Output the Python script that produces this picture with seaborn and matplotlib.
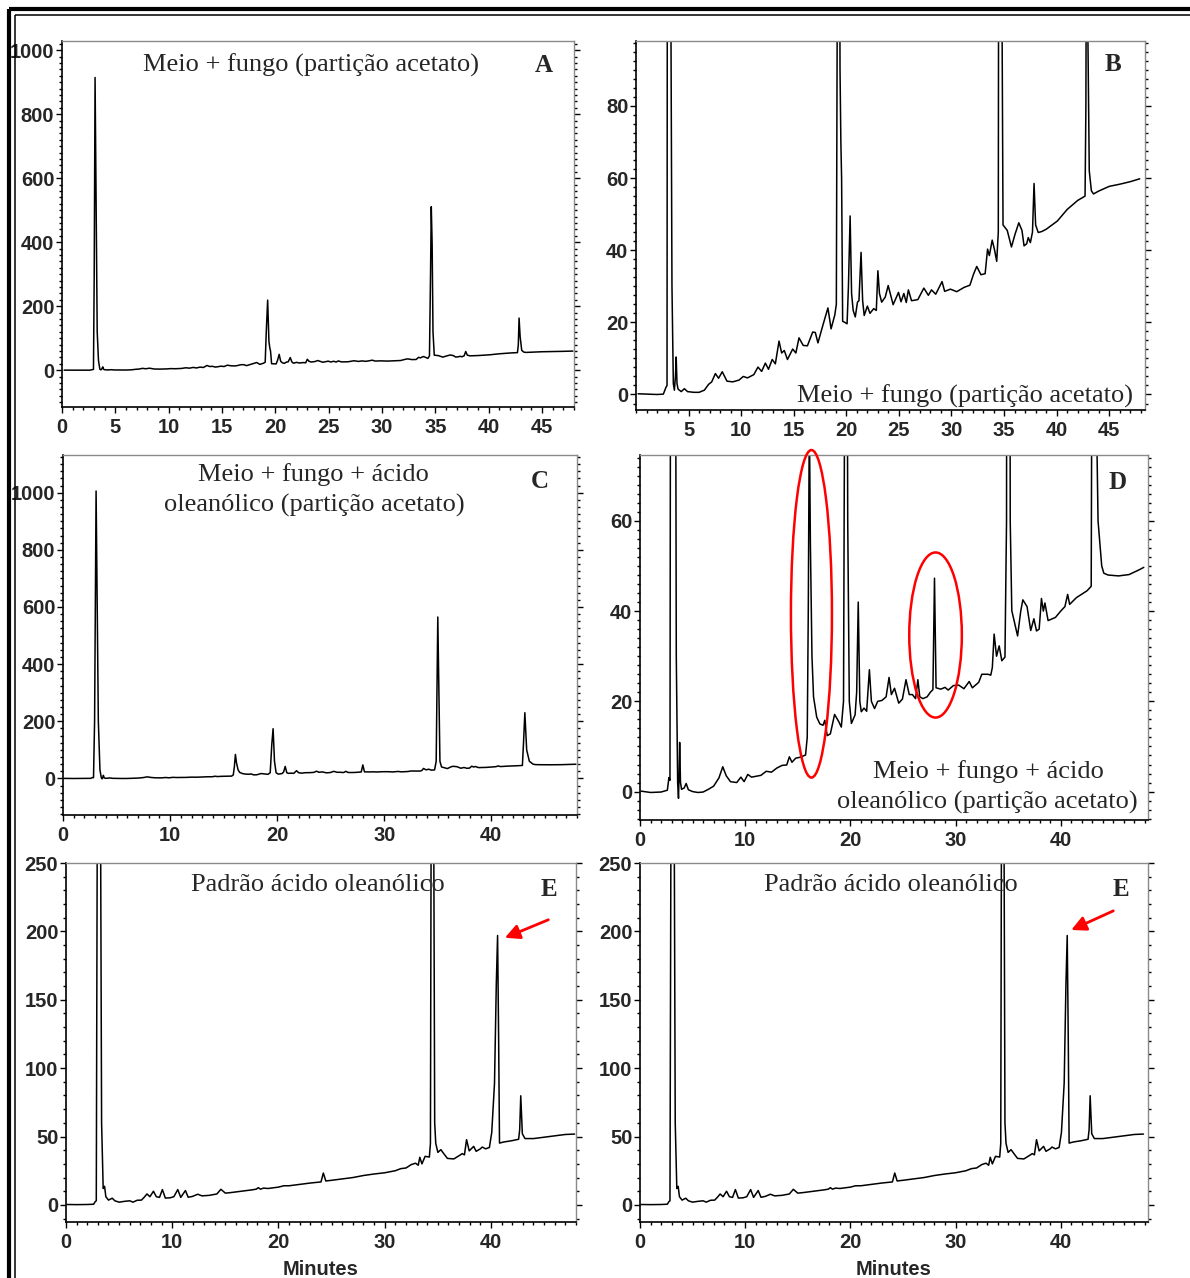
import matplotlib
matplotlib.use("Agg")
import matplotlib.pyplot as plt
from matplotlib.patches import Ellipse
from matplotlib.lines import Line2D
from matplotlib.ticker import MultipleLocator, FixedLocator
import pandas as pd
import seaborn as sns

# --- chromatogram A/B (medium + fungus, acetate partition) ---
ab_time = [0.2, 1.0, 2.0, 2.6, 2.85, 2.95, 3.02, 3.1, 3.2, 3.3, 3.42, 3.55, 3.65, 3.75, 3.82, 3.9,
           4.0, 4.3, 4.6, 4.9, 5.5, 6.0, 6.5, 6.9, 7.2, 7.55, 7.85, 8.2, 8.65, 9.2, 9.8, 10.2, 10.6,
           11.2, 11.6, 11.95, 12.3, 12.6, 12.95, 13.25, 13.6, 13.85, 14.1, 14.4, 14.9, 15.2, 15.5,
           15.9, 16.3, 16.8, 17.05, 17.3, 17.8, 18.25, 18.55, 18.9, 19.05, 19.15, 19.28, 19.4, 19.48,
           19.55, 19.65, 19.85, 20.07, 20.2, 20.36, 20.5, 20.65, 20.85, 21.06, 21.2, 21.4, 21.55, 21.7,
           22.0, 22.25, 22.6, 22.85, 23.0, 23.15, 23.36, 23.7, 23.98, 24.45, 24.96, 25.2, 25.47, 25.7,
           25.9, 26.2, 26.8, 27.37, 27.8, 28.1, 28.5, 29.1, 29.35, 29.9, 30.5, 31.2, 31.75, 32.1, 32.4,
           32.8, 33.2, 33.43, 33.6, 33.87, 34.1, 34.3, 34.45, 34.55, 34.62, 34.7, 34.78, 34.9, 35.3,
           35.7, 36.05, 36.4, 36.7, 36.9, 37.15, 37.3, 37.5, 37.7, 37.85, 38.0, 38.25, 38.6, 39.0,
           40.07, 41.0, 42.0, 42.7, 42.78, 42.85, 42.95, 43.1, 43.3, 43.5, 44.0, 45.0, 46.0, 47.0, 47.9]
ab_signal = [0.2, 0.1, 0.0, 0.1, 2.0, 2.5, 300, 915, 500, 120, 30, 3, 1.2, 5, 10.4, 3,
             1.5, 0.8, 1.6, 0.8, 0.6, 0.6, 1.2, 2.8, 3.5, 5.8, 4.5, 6.3, 3.7, 3.5, 4.0, 5.0, 4.6,
             5.5, 7.6, 6.4, 8.7, 7.0, 9.7, 8.5, 14.8, 11.5, 12.2, 9.7, 12.6, 11.5, 15.7,
             13.6, 13.5, 17.3, 17.2, 14.3, 19.5, 24.0, 18.2, 22.0, 25, 120, 219, 90, 70,
             60, 20.3, 20.0, 19.6, 30, 49.5, 28, 23.3, 21.5, 25.6, 26, 39.4, 26, 21.9,
             24.5, 22.5, 23.8, 23.3, 34.3, 28, 25.6, 27, 30.2, 24.9, 28.3, 25.7, 28.0, 25.5,
             29.0, 26.0, 26.3, 29.5, 27.5, 29.0, 27.8, 31.3, 28.6, 29.2, 28.5, 29.7, 30.3, 33.4, 35.5,
             33.2, 33.5, 40.3, 38.5, 42.8, 40, 36.9, 45, 300, 511, 395, 120, 47, 45.5,
             40.9, 44.5, 47.6, 45.5, 41.2, 41.8, 43.5, 42.1, 45, 58.5, 47, 44.9, 45.2, 45.8,
             48.1, 51.3, 53.8, 55.0, 80, 163, 105, 62, 56.5, 55.6, 56.4, 57.7, 58.3, 59.0, 59.8]

# --- chromatogram C/D (medium + fungus + oleanolic acid) ---
cd_time = [0.1, 1.0, 2.0, 2.6, 2.75, 2.85, 2.95, 3.09, 3.2, 3.3, 3.45, 3.58, 3.66, 3.72, 3.77, 3.85,
           3.95, 4.2, 4.39, 4.6, 5.0, 5.5, 6.0, 6.5, 7.0, 7.5, 7.87, 8.2, 8.6, 9.2, 9.59, 9.9, 10.25,
           10.6, 11.5, 12.0, 12.5, 13.0, 13.5, 13.95, 14.2, 14.45, 14.8, 15.2, 15.74, 15.9, 16.0, 16.1,
           16.2, 16.35, 16.5, 16.8, 17.1, 17.4, 17.57, 17.8, 18.1, 18.5, 18.9, 19.14, 19.35, 19.5,
           19.62, 19.75, 19.9, 20.1, 20.45, 20.6, 20.75, 20.9, 21.04, 21.3, 21.55, 21.81, 22.0, 22.3,
           22.6, 23.0, 23.4, 23.68, 23.9, 24.2, 24.6, 24.95, 25.29, 25.6, 25.9, 26.2, 26.42, 26.6,
           26.9, 27.3, 27.6, 27.85, 28.0, 28.15, 28.6, 29.0, 29.3, 29.8, 30.3, 30.8, 31.3, 31.6, 32.2,
           32.5, 33.1, 33.35, 33.5, 33.67, 33.9, 34.15, 34.4, 34.7, 34.85, 35.0, 35.1, 35.2, 35.35,
           35.9, 36.2, 36.4, 36.8, 37.15, 37.45, 37.7, 37.95, 38.17, 38.35, 38.5, 38.8, 39.5, 40.0,
           40.4, 40.66, 40.85, 41.5, 42.5, 42.9, 43.0, 43.13, 43.3, 43.55, 43.9, 44.1, 44.5, 45.5,
           46.5, 47.5, 47.9]
cd_signal = [0.1, -0.2, -0.1, 0.3, 3.1, 2.5, 200, 1006, 600, 200, 30, 2, -1.5, 4, 10.9, 2,
             0.5, 0.8, 1.8, 0.4, 0.0, -0.2, -0.1, 0.5, 1.2, 3.0, 5.5, 3.5, 2.2, 2.0, 3.2, 2.2, 3.8,
             3.2, 3.6, 4.5, 4.3, 5.2, 5.8, 5.9, 7.7, 6.5, 7.4, 7.6, 8.1, 12.0, 40, 84,
             55, 30, 21, 16.5, 15.0, 14.7, 15.8, 12.4, 12.8, 17.1, 15.5, 14.3, 20, 120,
             174, 60, 20, 15.1, 17, 22, 42.0, 20, 17.7, 18.5, 17.8, 27.0, 20, 18.4,
             20.0, 20.2, 21.0, 25.3, 21.5, 22.9, 19.6, 20.5, 24.8, 21.5, 21.5, 20.6, 24.8, 21.0,
             20.6, 21.0, 22.0, 22.6, 47.3, 23.0, 22.7, 23.1, 22.5, 23.5, 23.6, 22.8, 24.4, 23.0, 24.2,
             26.0, 26.0, 25.8, 27.5, 34.9, 30.0, 32.3, 29.0, 29.8, 60, 565, 300, 60, 40.1,
             34.5, 40.0, 42.5, 41.0, 35.7, 38.3, 35.6, 36, 42.8, 40.0, 41.8, 37.9, 38.6, 40.0,
             41.0, 43.7, 41.5, 43.0, 44.5, 45.5, 120, 230, 100, 60, 50, 48.4, 48.0, 47.8,
             48.1, 49.2, 49.7]

# --- chromatogram E (oleanolic acid standard) ---
e_time = [0.1, 1.0, 2.0, 2.6, 2.75, 2.85, 2.95, 3.05, 3.2, 3.35, 3.5, 3.63, 3.75, 4.0, 4.35, 4.6,
          5.0, 5.5, 6.0, 6.3, 6.7, 7.1, 7.35, 7.62, 7.9, 8.23, 8.5, 8.8, 9.07, 9.35, 9.8, 10.15,
          10.52, 10.8, 11.24, 11.5, 11.9, 12.4, 12.8, 13.5, 14.2, 14.58, 15.0, 15.5, 16.5, 17.5,
          17.9, 18.1, 18.3, 18.6, 19.0, 20.0, 20.5, 21.0, 22.0, 23.0, 24.0, 24.22, 24.45, 25.0,
          26.0, 27.0, 28.0, 29.0, 30.0, 31.0, 31.5, 32.0, 32.5, 32.9, 33.15, 33.3, 33.5, 33.8,
          34.2, 34.3, 34.4, 34.5, 34.6, 34.7, 34.8, 35.0, 35.28, 35.6, 35.9, 36.5, 37.0, 37.3,
          37.5, 37.7, 37.95, 38.37, 38.6, 39.0, 39.17, 39.5, 39.85, 40.07, 40.33, 40.5, 40.62,
          40.72, 40.8, 41.2, 42.0, 42.6, 42.7, 42.8, 42.95, 43.2, 44.0, 45.0, 46.0, 47.0, 47.87]
e_signal = [0.3, 0.2, 0.3, 0.5, 2.4, 3, 300, 900, 400, 60, 12, 13.6, 6, 3.5, 4.9, 3.0,
            2.0, 2.6, 3.0, 2.0, 3.4, 3.5, 5.5, 8.0, 6.0, 10.0, 6.0, 5.5, 11.2, 5.0, 5.2, 6.0,
            11.2, 5.5, 10.5, 5.6, 6.2, 7.8, 6.6, 7.0, 8.0, 11.4, 8.6, 9.0, 10.0, 11.0,
            11.5, 12.6, 11.5, 12.3, 12.0, 13.0, 14.0, 14.0, 15.0, 16.0, 16.8, 23.3, 17.5, 18.0,
            19.0, 20.0, 21.5, 22.6, 23.5, 25.0, 26.5, 27.0, 29.5, 30.5, 29.0, 34.8, 30.0, 35.5,
            35.0, 45, 400, 600, 300, 60, 45, 38.4, 40.4, 37.0, 34.0, 33.6, 36.0, 37.5,
            36.6, 47.7, 39.5, 42.8, 39.2, 41.0, 42.3, 41.0, 42.0, 53.0, 89.0, 162.0, 197.0,
            120.0, 45.2, 46.0, 47.0, 48.0, 55, 79.8, 52, 48.5, 48.5, 49.5, 50.5, 51.5, 51.8]

title_ab = "Meio + fungo (partição acetato)"
title_cd = ["Meio + fungo + ácido", "oleanólico (partição acetato)"]
title_e = "Padrão ácido oleanólico"

W, H = 1190, 1278
sns.set_style("ticks")
plt.rcParams["font.family"] = ["Liberation Sans", "DejaVu Sans"]
plt.rcParams["font.weight"] = "bold"
SERIF = ["Liberation Serif", "DejaVu Serif"]

fig = plt.figure(figsize=(W / 100, H / 100), dpi=100)


def make_axes(l, r, t, b):
    return fig.add_axes([l / W, 1 - b / H, (r - l) / W, (b - t) / H])


def style(ax, xlim, ylim, xmajor, xminor, yticks, yminor):
    ax.set_xlim(*xlim)
    ax.set_ylim(*ylim)
    ax.xaxis.set_major_locator(FixedLocator(xmajor))
    ax.xaxis.set_minor_locator(MultipleLocator(xminor))
    ax.yaxis.set_major_locator(FixedLocator(yticks))
    ax.yaxis.set_minor_locator(MultipleLocator(yminor))
    ax.set_xlabel("")
    ax.set_ylabel("")
    for side in ["left", "bottom"]:
        ax.spines[side].set_color("black")
        ax.spines[side].set_linewidth(1.2)
    for side in ["top", "right"]:
        ax.spines[side].set_visible(True)
        ax.spines[side].set_color("#8a8a8a")
        ax.spines[side].set_linewidth(1.0)
    ax.tick_params(which="both", direction="out", right=True, top=False, labelsize=14.5,
                   width=1, color="black")
    ax.tick_params(which="major", length=4)
    ax.tick_params(which="minor", length=2)
    ax.tick_params(axis="x", pad=4)
    ax.tick_params(axis="y", pad=1.5)


def trace(ax, t, s):
    df = pd.DataFrame({"t": t, "s": s})
    sns.lineplot(data=df, x="t", y="s", ax=ax, color="black", linewidth=1.1,
                 estimator=None, sort=False)


def letter(ax, x, y, txt):
    ax.text(x, y, txt, transform=ax.transAxes, family=SERIF, fontsize=18,
            fontweight="bold", ha="center", va="center")


# A
axA = make_axes(62, 574, 41, 407)
trace(axA, ab_time, ab_signal)
style(axA, (0, 48), (-115, 1029), list(range(0, 50, 5)), 1, list(range(0, 1001, 200)), 20)
axA.text(0.486, 0.934, title_ab, transform=axA.transAxes, family=SERIF, fontsize=19,
         fontweight="normal", ha="center", va="center")
letter(axA, 0.94, 0.934, "A")

# B
axB = make_axes(636, 1145, 41, 410)
trace(axB, ab_time, ab_signal)
style(axB, (0, 48.4), (-4.3, 98), list(range(5, 50, 5)), 1, [0, 20, 40, 60, 80], 2.5)
axB.text(0.976, 0.038, title_ab, transform=axB.transAxes, family=SERIF, fontsize=19,
         fontweight="normal", ha="right", va="center")
letter(axB, 0.937, 0.935, "B")

# C
axC = make_axes(63, 577, 455, 815)
trace(axC, cd_time, cd_signal)
style(axC, (0, 48), (-128, 1132), [0, 10, 20, 30, 40], 1, list(range(0, 1001, 200)), 25)
axC.text(0.488, 0.947, title_cd[0], transform=axC.transAxes, family=SERIF, fontsize=19,
         fontweight="normal", ha="center", va="center")
axC.text(0.488, 0.861, title_cd[1], transform=axC.transAxes, family=SERIF, fontsize=19,
         fontweight="normal", ha="center", va="center")
letter(axC, 0.928, 0.925, "C")

# D
axD = make_axes(640, 1148, 455, 820)
trace(axD, cd_time, cd_signal)
style(axD, (0, 48.3), (-6.3, 74.6), [0, 10, 20, 30, 40], 1, [0, 20, 40, 60], 2)
axD.text(0.685, 0.132, title_cd[0], transform=axD.transAxes, family=SERIF, fontsize=19,
         fontweight="normal", ha="center", va="center")
axD.text(0.683, 0.047, title_cd[1], transform=axD.transAxes, family=SERIF, fontsize=19,
         fontweight="normal", ha="center", va="center")
letter(axD, 0.941, 0.926, "D")
for cx, cy, w, h in [(16.3, 39.4, 3.9, 72.6), (28.1, 34.7, 5.0, 36.6)]:
    axD.add_patch(Ellipse((cx, cy), w, h, fill=False, edgecolor="red", linewidth=1.8,
                          clip_on=False, zorder=5))

# E (two copies)
for (l, r, xmax, arrow_from, arrow_to) in [(66, 576, 48.0, (45.4, 208.5), (41.3, 195.3)),
                                            (640, 1148, 48.3, (45.0, 215.0), (41.0, 201.0))]:
    axE = make_axes(l, r, 863, 1222)
    trace(axE, e_time, e_signal)
    style(axE, (0, xmax), (-12.5, 250), [0, 10, 20, 30, 40], 1, [0, 50, 100, 150, 200, 250], 10)
    axE.text(0.494, 0.939, title_e, transform=axE.transAxes, family=SERIF, fontsize=19,
             fontweight="normal", ha="center", va="center")
    letter(axE, 0.947, 0.925, "E")
    axE.annotate("", xy=arrow_to, xytext=arrow_from,
                 arrowprops=dict(arrowstyle="-|>", color="red", lw=2, mutation_scale=22,
                                 shrinkA=0, shrinkB=0), annotation_clip=False)
    axE.set_xlabel("Minutes", fontsize=14.5, fontweight="bold", labelpad=6)

# double frame around the figure
for pos, lw in [(8.5, 3.0), (15.0, 1.1)]:
    fig.add_artist(Line2D([pos / W, pos / W], [0, 1 - pos / H], transform=fig.transFigure,
                          color="black", linewidth=lw, solid_capstyle="butt"))
    fig.add_artist(Line2D([pos / W, 1], [1 - pos / H, 1 - pos / H], transform=fig.transFigure,
                          color="black", linewidth=lw, solid_capstyle="butt"))

fig.savefig("out.png", dpi=100)
